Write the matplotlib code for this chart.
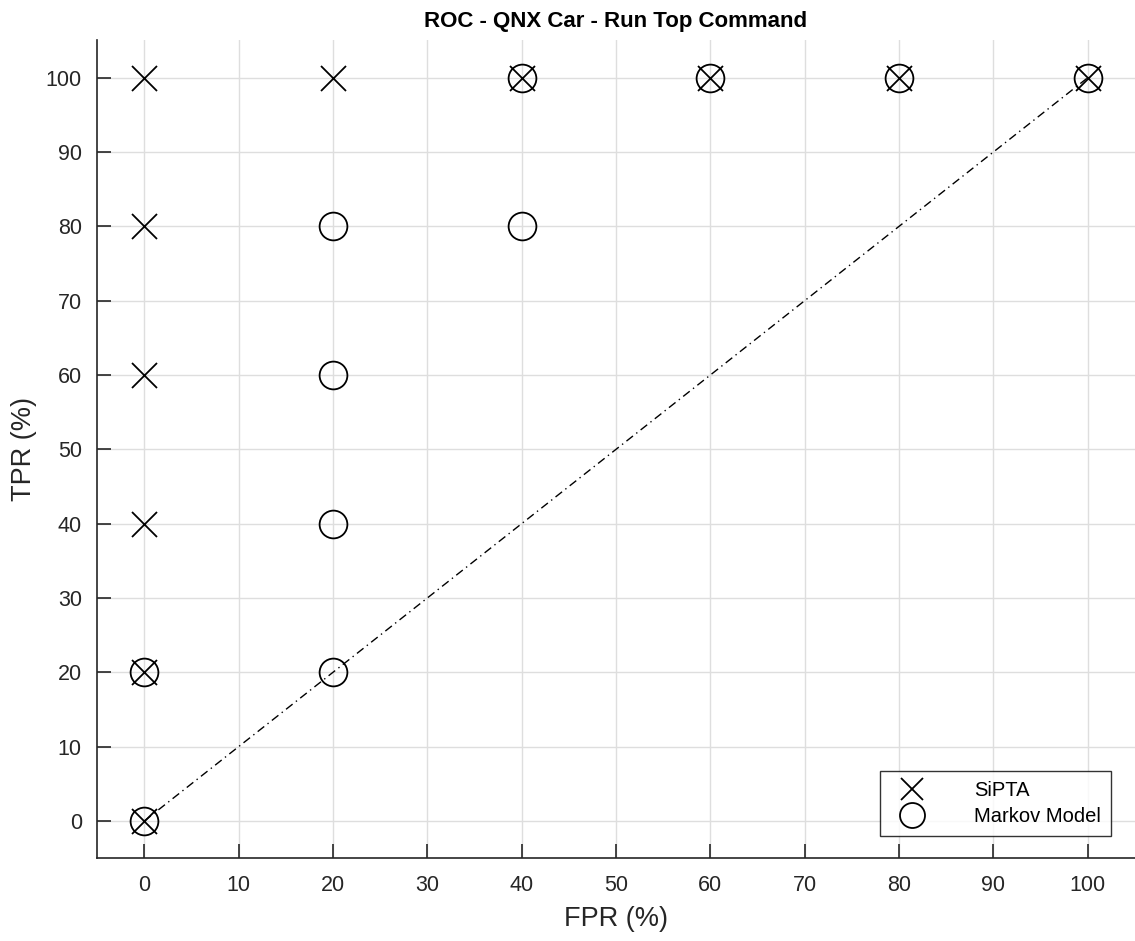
import matplotlib
matplotlib.use("Agg")
import matplotlib.pyplot as plt
import numpy as np

# ROC points (FPR %, TPR %)
sipta_fpr = [0, 20, 40, 60, 80, 100, 0, 0, 0, 0, 0]
sipta_tpr = [100, 100, 100, 100, 100, 100, 80, 60, 40, 20, 0]
markov_fpr = [0, 0, 20, 20, 20, 20, 40, 40, 60, 80, 100]
markov_tpr = [0, 20, 20, 40, 60, 80, 80, 100, 100, 100, 100]
diag = [0, 100]
ticks = np.arange(0, 101, 10)

plt.rcParams["font.family"] = ["Liberation Sans", "DejaVu Sans"]

fig = plt.figure(figsize=(11.35, 9.41), dpi=100)
ax = fig.add_axes([0.0855, 0.088, 0.9145, 0.869])

ax.plot(diag, diag, color="black", lw=1, ls="-.", dashes=(6, 3, 1, 3), zorder=2)
ax.plot(sipta_fpr, sipta_tpr, ls="none", marker="x", ms=18, mew=1.3,
        color="black", label="SiPTA", zorder=3)
ax.plot(markov_fpr, markov_tpr, ls="none", marker="o", ms=20, mew=1.3,
        mfc="none", mec="black", label="Markov Model", zorder=3)

ax.set_xlim(-5, 105)
ax.set_ylim(-5, 105)
ax.set_xticks(ticks)
ax.set_yticks(ticks)
ax.grid(True, color="#dedede", lw=1)
ax.set_axisbelow(True)
for spine in ("top", "right"):
    ax.spines[spine].set_visible(False)
for spine in ("left", "bottom"):
    ax.spines[spine].set_color("#262626")
    ax.spines[spine].set_linewidth(1.2)
ax.tick_params(direction="in", length=10, width=1.2, colors="#262626",
               labelsize=15.5)
ax.tick_params(axis="x", pad=12)
ax.tick_params(axis="y", pad=11)

ax.set_xlabel("FPR (%)", fontsize=19.5, color="#262626", labelpad=7)
ax.set_ylabel("TPR (%)", fontsize=19.5, color="#262626", labelpad=6)
ax.set_title("ROC - QNX Car - Run Top Command", fontsize=16, fontweight="bold",
             color="black", pad=10)

leg = ax.legend(loc="lower right", bbox_to_anchor=(0.987, 0.015), fontsize=14.5,
                frameon=True, fancybox=False, edgecolor="black",
                borderpad=0.5, handletextpad=2.0, labelspacing=0.35,
                handlelength=2.2, markerscale=0.9)
leg.get_frame().set_linewidth(1)

fig.savefig("out.png", dpi=100, facecolor="white")
